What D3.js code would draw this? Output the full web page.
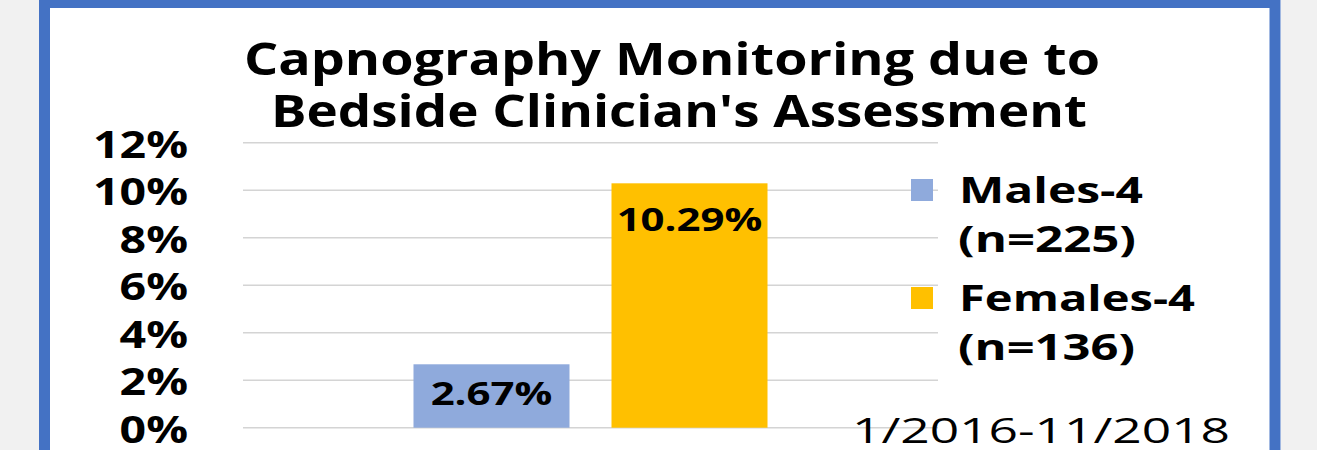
<!DOCTYPE html>
<html>
<head>
<meta charset="utf-8">
<script src="https://cdn.jsdelivr.net/npm/d3@7"></script>
<style>
  html, body { margin: 0; padding: 0; background: #f1f1f1; }
  svg { display: block; }
  text { font-family: "Open Sans", "Noto Sans", sans-serif; fill: #000; }
</style>
</head>
<body>
<svg id="chart" width="1317" height="450"></svg>
<script>
// ---- data ----
const titleLines = ["Capnography Monitoring due to", "Bedside Clinician's Assessment"];
const categories = [""];
const seriesNames = ["Males-4", "Females-4"];
const seriesSubLabels = ["(n=225)", "(n=136)"];
const seriesValues = [0.0267, 0.1029];
const seriesColors = ["#8faadc", "#ffc000"];
const yTicks = [0, 0.02, 0.04, 0.06, 0.08, 0.10, 0.12];
const dateNote = "1/2016-11/2018";

// ---- layout ----
const W = 1317, H = 450;
const svg = d3.select("#chart");

// frame
svg.append("rect").attr("x", 39).attr("y", -10).attr("width", 1242).attr("height", 500).attr("fill", "#fff");
svg.append("rect").attr("x", 44.5).attr("y", 2.5).attr("width", 1230.5).attr("height", 520)
  .attr("fill", "none").attr("stroke", "#4472c4").attr("stroke-width", 11);

const plot = { left: 243, right: 938, top: 142.7, bottom: 427.7 };

const y = d3.scaleLinear().domain([0, 0.12]).range([plot.bottom, plot.top]);
const x0 = d3.scaleBand().domain(categories).range([plot.left, plot.right])
  .paddingInner(0).paddingOuter(0.4816);
const x1 = d3.scaleBand().domain(seriesNames).range([0, x0.bandwidth()])
  .paddingInner(0.2121).paddingOuter(0);

function stretch(sel, factor) {
  sel.each(function () {
    const w = this.getComputedTextLength();
    d3.select(this).attr("textLength", w * factor).attr("lengthAdjust", "spacingAndGlyphs");
  });
}
function fitTo(sel, width) {
  sel.attr("textLength", width).attr("lengthAdjust", "spacingAndGlyphs");
}

// gridlines
svg.append("g").selectAll("line").data(yTicks).join("line")
  .attr("x1", plot.left).attr("x2", plot.right)
  .attr("y1", d => y(d)).attr("y2", d => y(d))
  .attr("stroke", "#d4d4d4").attr("stroke-width", 1.6);

// y axis labels
const yAxis = d3.axisLeft(y).tickValues(yTicks).tickFormat(d3.format(".0%")).tickSize(0).tickPadding(0);
const yg = svg.append("g").attr("transform", "translate(188,0)").call(yAxis);
yg.select(".domain").remove();
yg.selectAll("text")
  .attr("font-size", 37).attr("font-weight", "bold")
  .style("font-family", '"Open Sans", sans-serif').attr("fill", "#000")
  .attr("dy", null).attr("dominant-baseline", "central");
// horizontal stretch factor from "12%" target width 95
{
  const t = yg.selectAll("text").filter(d => d === 0.12).node();
  const f = 95 / t.getComputedTextLength();
  stretch(yg.selectAll("text"), f);
}

// bars
const gBars = svg.append("g");
const barData = seriesNames.map((n, i) => ({ name: n, value: seriesValues[i], color: seriesColors[i], cat: categories[0] }));
gBars.selectAll("rect").data(barData).join("rect")
  .attr("x", d => x0(d.cat) + x1(d.name))
  .attr("width", x1.bandwidth())
  .attr("y", d => y(d.value))
  .attr("height", d => y(0) - y(d.value))
  .attr("fill", d => d.color);

// data labels
const labelFmt = d3.format(".2%");
const labels = gBars.selectAll("text").data(barData).join("text")
  .attr("x", d => x0(d.cat) + x1(d.name) + x1.bandwidth() / 2)
  .attr("y", d => Math.min(y(d.value) + 48, (y(d.value) + y(0)) / 2 + 9))
  .attr("text-anchor", "middle")
  .attr("font-size", 33).attr("font-weight", "bold")
  .text(d => labelFmt(d.value));
{
  const n = labels.filter(d => d.name === "Females-4").node();
  stretch(labels, 145.7 / n.getComputedTextLength());
}

// legend
const lg = svg.append("g");
const legendRowY = [179, 287];
const legendTextW = [[184, 178], [236, 177]];
seriesNames.forEach((n, i) => {
  lg.append("rect").attr("x", 911).attr("y", legendRowY[i]).attr("width", 22).attr("height", 22)
    .attr("fill", seriesColors[i]);
  const t1 = lg.append("text").attr("x", 959).attr("y", legendRowY[i] + 23.5)
    .attr("font-size", 36).attr("font-weight", "bold").text(n);
  fitTo(t1, legendTextW[i][0]);
  const t2 = lg.append("text").attr("x", 958).attr("y", legendRowY[i] + 72.5)
    .attr("font-size", 36).attr("font-weight", "bold").text(seriesSubLabels[i]);
  fitTo(t2, legendTextW[i][1]);
});

// title
const titleY = [75, 126.7];
const titleX = [244, 271];
const titleW = [856, 816];
titleLines.forEach((s, i) => {
  const t = svg.append("text").attr("x", titleX[i]).attr("y", titleY[i])
    .attr("font-size", 44).attr("font-weight", "bold").text(s);
  fitTo(t, titleW[i]);
});

// date note
const dn = svg.append("text").attr("x", 852).attr("y", 443)
  .attr("font-size", 35).attr("font-weight", "normal").text(dateNote);
fitTo(dn, 378);
</script>
</body>
</html>
